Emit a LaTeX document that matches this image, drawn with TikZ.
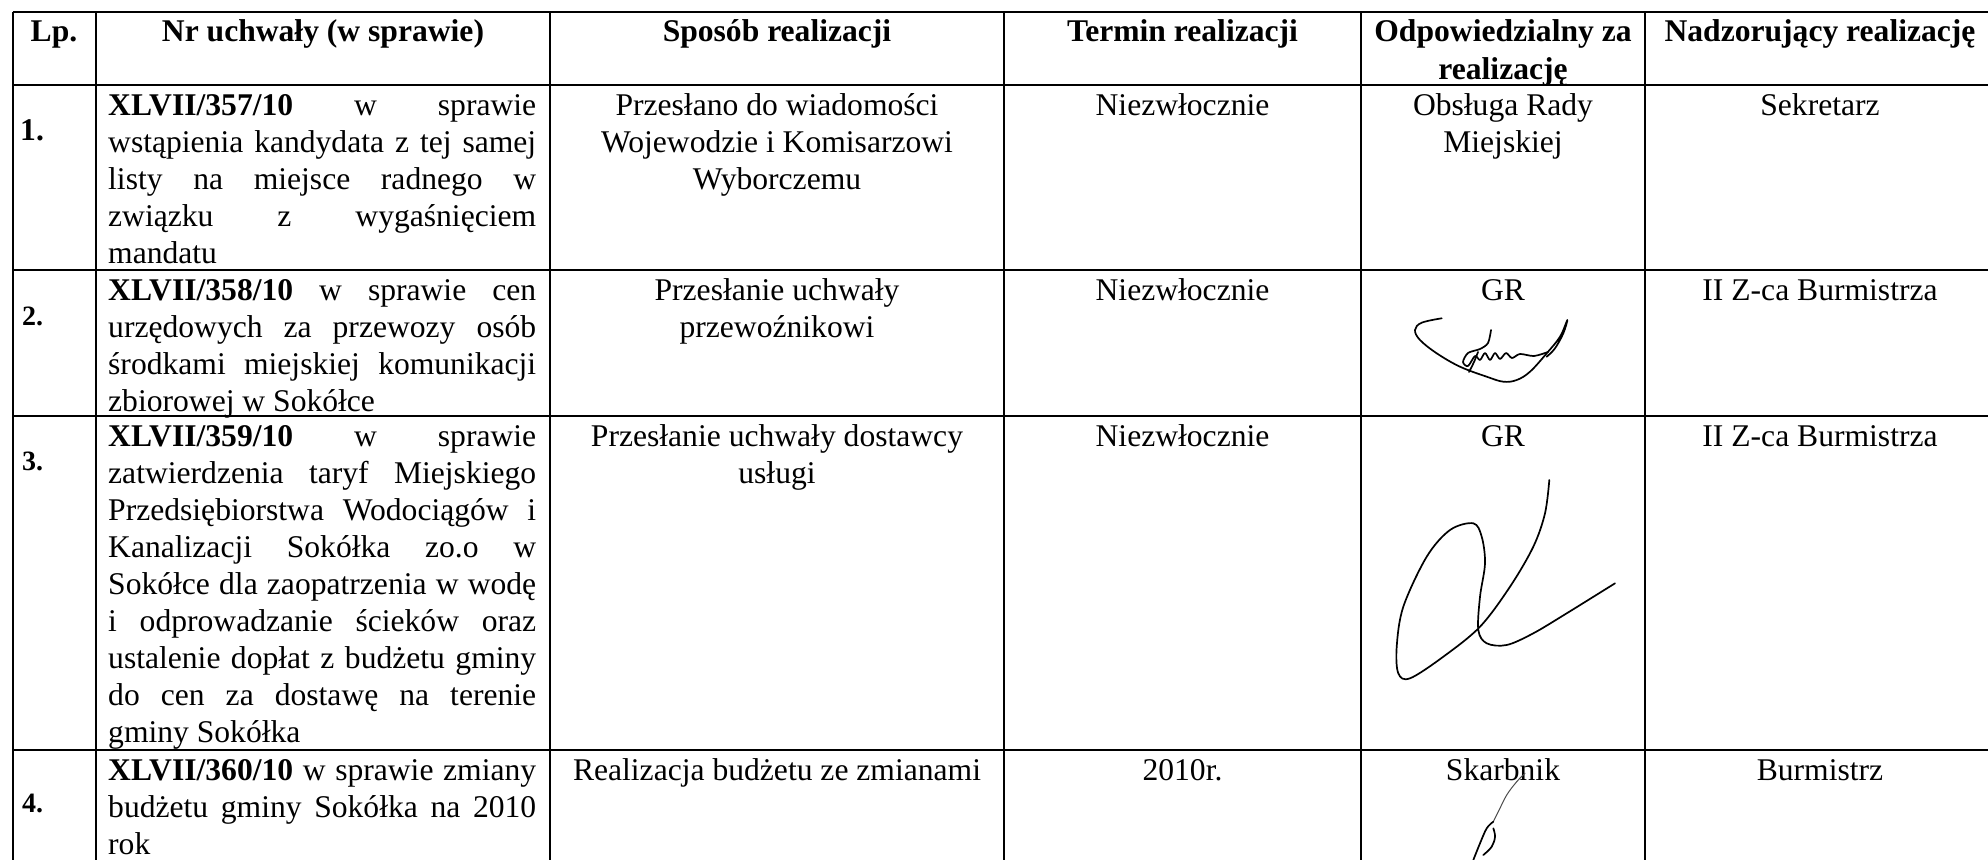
\documentclass[tikz,border=0pt]{standalone}
\usepackage{fontspec}
\setmainfont{Liberation Serif}
\newcommand\JustLine[1]{\makebox[428pt][s]{#1}}
\begin{document}
\begin{tikzpicture}[x=1pt,y=-1pt,
  txt/.style={inner sep=0pt, font=\fontsize{31.6}{37}\selectfont},
  hd/.style={inner sep=0pt, font=\fontsize{31.6}{37}\selectfont\bfseries},
  num/.style={inner sep=0pt, anchor=base west, font=\fontsize{28}{32}\selectfont\bfseries},
  gridline/.style={line width=2pt, black},
  sig/.style={line width=1.7pt, line cap=round, line join=round, black},
  sigthin/.style={line width=1pt, line cap=round, line join=round, black!70}]

\fill[white] (0,0) rectangle (1988,859);
\useasboundingbox (0,0) rectangle (1988,859);

% table grid
\foreach \yy in {12,85,270,416,750} \draw[gridline] (12.7,\yy) -- (2010,\yy);
\foreach \xx in {12.7,96,550,1004,1361,1645} \draw[gridline] (\xx,12) -- (\xx,870);

% header
\node[hd, anchor=base] (hLp) at (54,42) {Lp.};
\node[hd, anchor=base] (hNr) at (323,42) {Nr uchwały (w sprawie)};
\node[hd, anchor=base] (hSp) at (777,42) {Sposób realizacji};
\node[hd, anchor=base] (hTe) at (1182.5,42) {Termin realizacji};
\node[hd, anchor=base] (hOdA) at (1503,42) {Odpowiedzialny za};
\node[hd, anchor=base] (hOdB) at (1503,79) {realizację};
\node[hd, anchor=base] (hNa) at (1820,42) {Nadzorujący realizację};

% row 1
\node[hd, anchor=base west] (n1) at (20,140) {1.};
\node[txt, anchor=base west] (r1a) at (108,115) {\JustLine{\textbf{XLVII/357/10} w sprawie}};
\node[txt, anchor=base west] (r1b) at (108,152) {\JustLine{wstąpienia kandydata z tej samej}};
\node[txt, anchor=base west] (r1c) at (108,189) {\JustLine{listy na miejsce radnego w}};
\node[txt, anchor=base west] (r1d) at (108,226) {\JustLine{związku z wygaśnięciem}};
\node[txt, anchor=base west] (r1e) at (108,263) {mandatu};
\node[txt, anchor=base] (s1a) at (777,115) {Przesłano do wiadomości};
\node[txt, anchor=base] (s1b) at (777,152) {Wojewodzie i Komisarzowi};
\node[txt, anchor=base] (s1c) at (777,189) {Wyborczemu};
\node[txt, anchor=base] (t1) at (1182.5,115) {Niezwłocznie};
\node[txt, anchor=base] (o1a) at (1503,115) {Obsługa Rady};
\node[txt, anchor=base] (o1b) at (1503,152) {Miejskiej};
\node[txt, anchor=base] (z1) at (1820,115) {Sekretarz};

% row 2
\node[num] (n2) at (22,325) {2.};
\node[txt, anchor=base west] (r2a) at (108,300) {\JustLine{\textbf{XLVII/358/10} w sprawie cen}};
\node[txt, anchor=base west] (r2b) at (108,337) {\JustLine{urzędowych za przewozy osób}};
\node[txt, anchor=base west] (r2c) at (108,374) {\JustLine{środkami miejskiej komunikacji}};
\node[txt, anchor=base west] (r2d) at (108,411) {zbiorowej w Sokółce};
\node[txt, anchor=base] (s2a) at (777,300) {Przesłanie uchwały};
\node[txt, anchor=base] (s2b) at (777,337) {przewoźnikowi};
\node[txt, anchor=base] (t2) at (1182.5,300) {Niezwłocznie};
\node[txt, anchor=base] (o2) at (1503,300) {GR};
\node[txt, anchor=base] (z2) at (1820,300) {II Z-ca Burmistrza};

% row 3
\node[num] (n3) at (22,470) {3.};
\node[txt, anchor=base west] (r3a) at (108,446) {\JustLine{\textbf{XLVII/359/10} w sprawie}};
\node[txt, anchor=base west] (r3b) at (108,483) {\JustLine{zatwierdzenia taryf Miejskiego}};
\node[txt, anchor=base west] (r3c) at (108,520) {\JustLine{Przedsiębiorstwa Wodociągów i}};
\node[txt, anchor=base west] (r3d) at (108,557) {\JustLine{Kanalizacji Sokółka zo.o w}};
\node[txt, anchor=base west] (r3e) at (108,594) {\JustLine{Sokółce dla zaopatrzenia w wodę}};
\node[txt, anchor=base west] (r3f) at (108,631) {\JustLine{i odprowadzanie ścieków oraz}};
\node[txt, anchor=base west] (r3g) at (108,668) {\JustLine{ustalenie dopłat z budżetu gminy}};
\node[txt, anchor=base west] (r3h) at (108,705) {\JustLine{do cen za dostawę na terenie}};
\node[txt, anchor=base west] (r3i) at (108,742) {gminy Sokółka};
\node[txt, anchor=base] (s3a) at (777,446) {Przesłanie uchwały dostawcy};
\node[txt, anchor=base] (s3b) at (777,483) {usługi};
\node[txt, anchor=base] (t3) at (1182.5,446) {Niezwłocznie};
\node[txt, anchor=base] (o3) at (1503,446) {GR};
\node[txt, anchor=base] (z3) at (1820,446) {II Z-ca Burmistrza};

% row 4
\node[num] (n4) at (22,812) {4.};
\node[txt, anchor=base west] (r4a) at (108,780) {\JustLine{\textbf{XLVII/360/10} w sprawie zmiany}};
\node[txt, anchor=base west] (r4b) at (108,817) {\JustLine{budżetu gminy Sokółka na 2010}};
\node[txt, anchor=base west] (r4c) at (108,854) {rok};
\node[txt, anchor=base] (s4) at (777,780) {Realizacja budżetu ze zmianami};
\node[txt, anchor=base] (t4) at (1182.5,780) {2010r.};
\node[txt, anchor=base] (o4) at (1503,780) {Skarbnik};
\node[txt, anchor=base] (z4) at (1820,780) {Burmistrz};

% signature in row 2
\draw[sig] plot[smooth, tension=0.6] coordinates {
 (1441.7,318.3) (1421.7,322.7) (1415,330) (1420,340) (1436.7,353.3)
 (1460,366.7) (1486.7,376.7) (1503.3,381.7) (1516.7,380) (1530,371.7)
 (1546.7,353.3) (1560,336.7) (1567.3,320) (1563.3,333.3) (1555,348.3) (1546.7,356.7)};
\draw[sig] plot[smooth, tension=0.5] coordinates {
 (1491,330) (1488,343) (1480,349) (1468,353) (1463,362) (1468,366) (1475,356)
 (1480,360) (1485,353) (1490,360) (1495,353) (1500,359) (1506,353) (1512,358)
 (1520,354) (1534,356) (1548,352)};
\draw[sig] plot[smooth, tension=0.5] coordinates {(1478,352) (1474,362) (1469,372)};

% signature in row 3
\draw[sig] plot[smooth, tension=0.55] coordinates {
 (1549.3,480) (1545,513.3) (1533.3,546.7) (1510,586.7) (1480,626.7)
 (1443.3,656.7) (1410,678.3) (1398.3,673.3) (1396.7,646.7) (1403.3,606.7)
 (1426.7,556.7) (1450,530) (1473.3,523.3) (1481.7,536.7) (1485,563.3)
 (1480,596.7) (1478.3,630) (1486.7,643.3) (1506.7,645) (1533.3,633.3)
 (1566.7,613.3) (1615,583.3)};

% signature in row 4
\draw[sigthin] plot[smooth, tension=0.6] coordinates {
 (1525,773.3) (1516.7,781.7) (1506.7,795) (1498.3,811.7) (1493.3,821.7)};
\draw[sig] plot[smooth, tension=0.6] coordinates {
 (1493.3,821.7) (1486.7,828.3) (1480,843.3) (1473.3,860)};
\draw[sig] plot[smooth, tension=0.6] coordinates {
 (1493.3,828.3) (1495,836.7) (1491.7,846.7) (1483.3,855)};
\end{tikzpicture}
\end{document}
